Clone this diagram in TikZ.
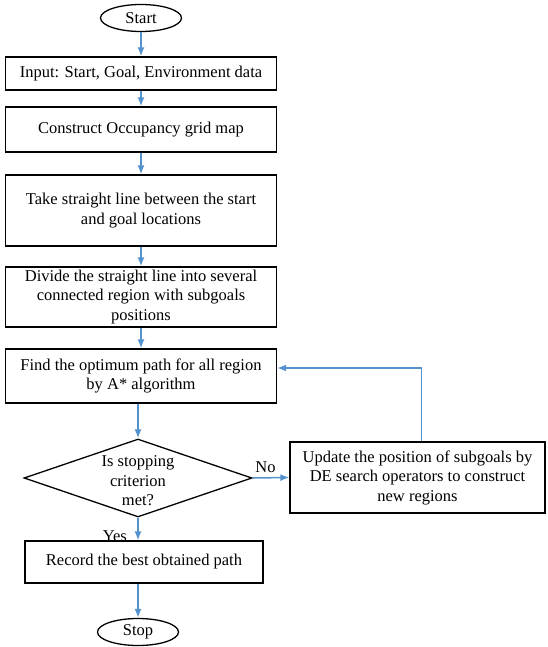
\documentclass[tikz,border=0pt]{standalone}
\usepackage{fontspec}
\setmainfont{Liberation Serif}
\usepackage{xcolor}
\usetikzlibrary{arrows.meta}
\usetikzlibrary{shapes.geometric}
\usetikzlibrary{math}
\definecolor{flowblue}{RGB}{84,146,206}

\begin{document}
\begin{tikzpicture}[x=1pt,y=-1pt,
  every node/.style={font=\fontsize{16.5}{19.5}\selectfont, inner sep=0pt},
  procbox/.style={draw, line width=1.3pt, rectangle, align=center},
  termbox/.style={draw, line width=1.3pt, ellipse, minimum width=81pt, minimum height=27pt},
  flow/.style={-{Latex[length=9pt,width=7pt]}, line width=1.5pt, color=flowblue}]
\tikzmath{
\cx=141;
\w=271;
}
\useasboundingbox (0,0) rectangle (547,647);

%%%%%%%%%%   main column
\node[termbox] (start) at (\cx,18) {Start};
\node[procbox, minimum width=\w, minimum height=33] (input) at (\cx,73.5) {Input: Start, Goal, Environment data};
\node[procbox, minimum width=\w, minimum height=45] (grid) at (\cx,129.5) {Construct Occupancy grid map};
\node[procbox, minimum width=\w, minimum height=71] (line) at (\cx,210.5) {Take straight line between the start\\and goal locations};
\node[procbox, minimum width=\w, minimum height=60] (divide) at (\cx,297) {Divide the straight line into several\\connected region with subgoals\\positions};
\node[procbox, minimum width=\w, minimum height=54] (optimum) at (\cx,376) {Find the optimum path for all region\\by A* algorithm};
% decision: outline and text apart, so the text may touch the edges
\node[draw, line width=1.3pt, diamond, minimum width=228, minimum height=78] (test) at (\cx-3,478) {};
\node[align=center] (testtext) at ([yshift=-3pt]test.center) {Is stopping\\criterion\\met?};
\node[procbox, minimum width=238, minimum height=42] (record) at (\cx+3,562) {Record the best obtained path};
\node[termbox] (stop) at (\cx-3,632) {Stop};

%%%%%%%%%%   side box
\node[procbox, minimum width=255, minimum height=71] (update) at (417.5,477.5) {Update the position of subgoals by\\DE search operators to construct\\new regions};

\draw[flow] (start) -- (input);
\draw[flow] (input) -- (grid);
\draw[flow] (grid) -- (line);
\draw[flow] (line) -- (divide);
\draw[flow] (divide) -- (optimum);
\draw[flow] (optimum.south -| test.north) -- (test.north);
\draw[flow] (test.south) -- (test.south |- record.north);
\node[anchor=south east] (yes) at ([xshift=-11pt,yshift=-2pt]test.south |- record.north) {Yes};
\draw[flow] (record.south -| stop.north) -- (stop.north);
\draw[flow] (test.east) -- (update.west) node[pos=0.35, above=4pt, color=black]{No};
\draw[flow] ([xshift=4pt]update.north) |- ([yshift=8pt]optimum.east);
\end{tikzpicture}
\end{document}
